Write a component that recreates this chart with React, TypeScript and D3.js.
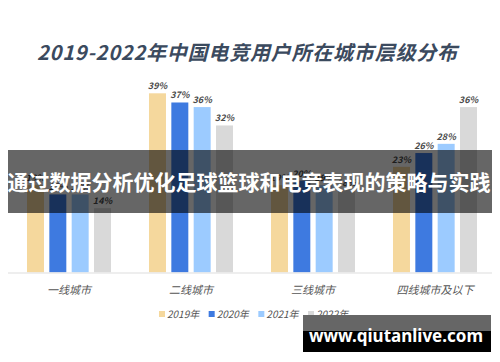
import React, { useRef, useEffect } from "react";
import * as d3 from "d3";

// city tiers and years
const tiers = ["一线城市", "二线城市", "三线城市", "四线城市及以下"];
const years = ["2019年", "2020年", "2021年", "2022年"];

// share (%) per tier, one array per year
const y2019 = [19, 39, 19, 23];
const y2020 = [17, 37, 20, 26];
const y2021 = [17, 36, 19, 28];
const y2022 = [14, 32, 18, 36];

const colors = ["#f5d89d", "#3e7ae0", "#9ccbff", "#d9d9d9"];

const W = 500;
const H = 362;

export default function App() {
  const barsRef = useRef<SVGGElement>(null);
  const legendRef = useRef<SVGGElement>(null);

  const x = d3.scaleBand().domain(tiers).range([8, 496]);
  const xs = d3.scaleBand().domain(years).range([0, x.bandwidth()]).paddingInner(0.24).paddingOuter(0.85);
  const y = d3.scaleLinear().domain([0, 39]).range([272.5, 93.3]);

  useEffect(() => {
    const series = [y2019, y2020, y2021, y2022];
    const rows = tiers.flatMap((t, i) => years.map((yr, j) => ({ tier: t, year: yr, value: series[j][i], color: colors[j] })));

    const g = d3.select(barsRef.current);
    g.selectAll("rect.bar")
      .data(rows)
      .join("rect")
      .classed("bar", true)
      .attr("x", d => x(d.tier)! + xs(d.year)!)
      .attr("y", d => y(d.value))
      .attr("width", xs.bandwidth())
      .attr("height", d => y(0) - y(d.value))
      .attr("fill", d => d.color);

    g.selectAll("text.val")
      .data(rows)
      .join("text")
      .classed("val", true)
      .attr("x", d => x(d.tier)! + xs(d.year)! + xs.bandwidth() / 2)
      .attr("y", d => y(d.value) - 4)
      .attr("text-anchor", "middle")
      .attr("font-size", 9)
      .attr("font-weight", "bold")
      .attr("font-style", "italic")
      .attr("fill", "#4a4a4a")
      .text(d => d.value + "%");

    // legend
    const lg = d3.select(legendRef.current);
    const lx = d3.scalePoint().domain(years).range([159, 308]);
    const items = lg.selectAll("g.item").data(years).join("g").classed("item", true)
      .attr("transform", d => `translate(${lx(d)},314)`);
    items.selectAll("rect").data((d, i) => [i]).join("rect")
      .attr("x", 0).attr("y", -3).attr("width", 6).attr("height", 6)
      .attr("fill", i => colors[i]);
    items.selectAll("text").data(d => [d]).join("text")
      .attr("x", 8).attr("y", 3.5)
      .attr("font-size", 10)
      .attr("font-style", "italic")
      .attr("fill", "#555")
      .text(d => d);
  }, []);

  return (
    <svg width={W} height={H} style={{ position: "absolute", left: 0, top: 0, background: "#fff" }}
      fontFamily="'Noto Sans CJK SC', 'Noto Sans', sans-serif">
      <text x={37} y={60} fontSize={20} fontWeight="bold" fontStyle="italic" fill="#3b4a5e"
        textLength={420} lengthAdjust="spacing">
        2019-2022年中国电竞用户所在城市层级分布
      </text>
      <g ref={barsRef}></g>
      <line x1={8} x2={492} y1={273} y2={273} stroke="#e8e8e8" strokeWidth={1.5} />
      {tiers.map(t => (
        <text key={t} x={x(t)! + x.bandwidth() / 2} y={294} textAnchor="middle" fontSize={11}
          fontStyle="italic" fill="#555">{t}</text>
      ))}
      <g ref={legendRef}></g>

      {/* watermark banner */}
      <rect x={8} y={150} width={484} height={63} fill="#000" fillOpacity={0.6} />
      <text x={249} y={190} textAnchor="middle" fontSize={21} fontWeight="bold" fill="#fff">
        通过数据分析优化足球篮球和电竞表现的策略与实践
      </text>
      <rect x={303} y={315} width={188} height={16} fill="#666" />
      <rect x={303} y={331} width={188} height={21} fill="#000" />
      <text x={396} y={342} textAnchor="middle" fontSize={17} fontWeight="bold" fill="#fff"
        fontFamily="'Noto Sans', sans-serif">www.qiutanlive.com</text>
    </svg>
  );
}
